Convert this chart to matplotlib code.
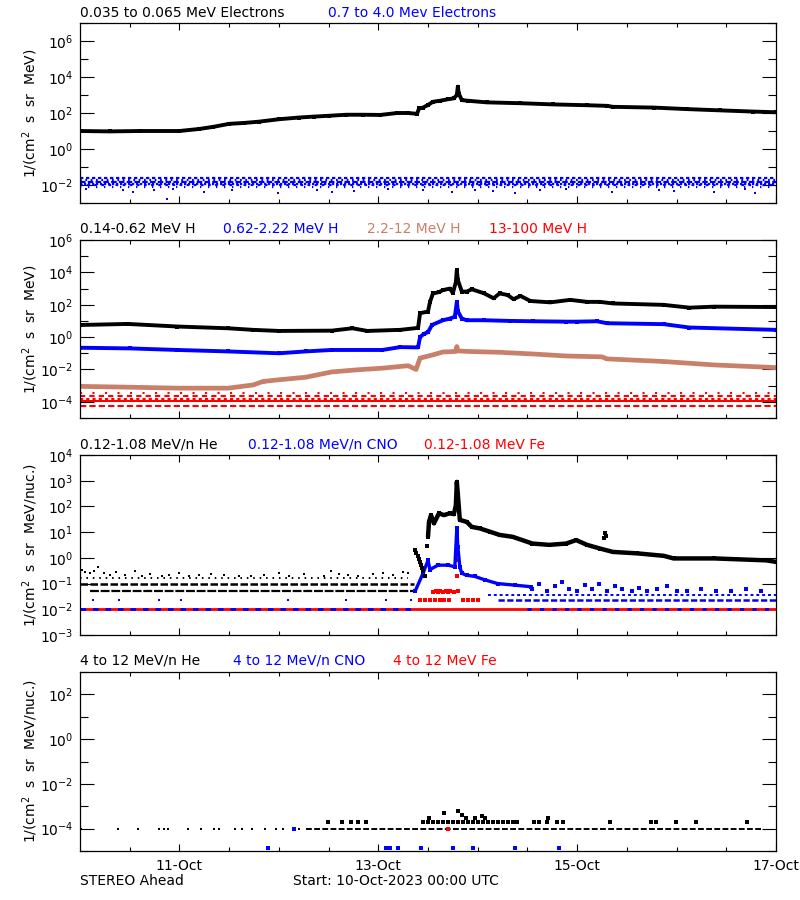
import numpy as np
import matplotlib
matplotlib.use("Agg")
import matplotlib.pyplot as plt
from matplotlib.ticker import FixedLocator, FuncFormatter, NullFormatter

plt.rcParams['font.family'] = ['DejaVu Sans']

BLUE = '#0000FF'
RED = '#FF0000'
BROWN = '#C8806A'

# ---------------- x axis (days since 10-Oct-2023 00:00 UTC) ----------------
day_ticks = [1, 3, 5, 7]
day_labels = ["11-Oct", "13-Oct", "15-Oct", "17-Oct"]

# ---------------- Panel 1: electrons ----------------
e_lo_days = [0.0, 0.3, 0.6, 1.0, 1.2, 1.34, 1.5, 1.65, 1.8, 2.0, 2.2, 2.35, 2.5, 2.68, 2.85,
             3.02, 3.19, 3.3, 3.39, 3.41, 3.45, 3.5, 3.55, 3.62, 3.7, 3.76, 3.79, 3.80, 3.81,
             3.84, 3.9, 4.09, 4.43, 4.76, 5.1, 5.3, 5.36, 5.77, 6.1, 6.44, 6.77, 7.0]
e_lo_flux = [10, 9.5, 10, 10, 13, 17, 25, 28, 33, 45, 56, 63, 70, 80, 80,
             78, 100, 100, 90, 180, 200, 280, 420, 480, 580, 650, 1000, 2900, 1200,
             520, 480, 390, 350, 300, 270, 250, 220, 200, 165, 140, 120, 110]
e_hi_levels = [0.024, 0.019, 0.015, 0.012, 0.0095, 0.0078]
e_hi_out_days = [0.06, 0.43, 0.53, 0.74, 0.88, 0.94, 1.25, 1.53, 1.99, 2.38, 2.53, 2.76, 3.10,
                 3.45, 3.74, 3.97, 4.15, 4.38, 4.63, 4.89, 5.35, 5.82, 5.97, 6.38, 6.69, 6.79]
e_hi_out_flux = [0.006, 0.005, 0.004, 0.005, 0.0016, 0.006, 0.004, 0.005, 0.0035, 0.005, 0.004,
                 0.0045, 0.006, 0.005, 0.004, 0.005, 0.0045, 0.0035, 0.005, 0.006, 0.004,
                 0.005, 0.0045, 0.004, 0.006, 0.0035]

# ---------------- Panel 2: protons ----------------
h1_days = [0.0, 0.48, 0.98, 1.49, 1.74, 2.0, 2.53, 2.74, 2.89, 3.22, 3.40, 3.42, 3.5, 3.52,
           3.55, 3.61, 3.65, 3.72, 3.75, 3.78, 3.79, 3.80, 3.84, 3.89, 3.94, 4.06, 4.16, 4.22,
           4.3, 4.36, 4.43, 4.53, 4.73, 4.93, 5.1, 5.23, 5.36, 5.87, 6.13, 6.38, 7.0]
h1_flux = [5.6, 6.5, 4.5, 3.5, 2.8, 2.4, 2.5, 3.5, 2.4, 2.8, 3.7, 30, 38, 150,
           500, 600, 800, 1000, 520, 2500, 14000, 3400, 650, 650, 900, 520, 250, 500,
           400, 220, 350, 170, 140, 200, 150, 150, 120, 98, 66, 76, 72]
h2_days = [0.0, 0.5, 0.98, 1.49, 2.0, 2.27, 2.53, 3.04, 3.22, 3.40, 3.42, 3.46, 3.5, 3.54,
           3.65, 3.72, 3.77, 3.79, 3.80, 3.84, 3.89, 4.06, 4.32, 4.56, 4.89, 5.0, 5.2,
           5.3, 5.87, 6.13, 7.0]
h2_flux = [0.22, 0.2, 0.16, 0.13, 0.10, 0.13, 0.16, 0.16, 0.24, 0.23, 1.0, 1.6, 2.0, 5.6,
           11, 14, 18, 150, 40, 14, 11, 11, 10, 9.5, 9, 9, 9.5, 7.2, 6.3, 3.9, 2.8]
h3_days = [0.0, 0.5, 0.98, 1.49, 1.74, 1.84, 2.0, 2.27, 2.53, 2.79, 3.04, 3.3, 3.38, 3.42,
           3.55, 3.65, 3.78, 3.79, 3.80, 3.89, 4.22, 4.56, 4.89, 5.25, 5.3, 5.87, 6.38, 7.0]
h3_flux = [9e-4, 8e-4, 7e-4, 7e-4, 1.1e-3, 1.8e-3, 2.3e-3, 3.3e-3, 7.0e-3, 9.5e-3, 1.2e-2,
           1.7e-2, 1.0e-2, 5e-2, 8e-2, 0.12, 0.13, 0.26, 0.14, 0.13, 0.115, 0.09, 0.068,
           0.06, 0.045, 0.031, 0.019, 0.013]
h4_levels = [3.4e-4, 2.3e-4, 1.6e-4, 1.15e-4, 5.5e-5]

# ---------------- Panel 3: 0.12-1.08 MeV/n ions ----------------
he_lo_levels = [0.16, 0.10, 0.051]
he_lo_quiet_days = [0.02, 0.05, 0.1, 0.14, 0.18, 0.24, 0.3, 0.36, 0.45, 0.55, 0.62, 0.7, 0.82,
                    0.9, 1.0, 1.1, 1.2, 1.32, 1.45, 1.6, 1.72, 1.85, 2.0, 2.1, 2.25, 2.45,
                    2.52, 2.6, 2.7, 2.8, 2.95, 3.05, 3.15, 3.25, 3.3]
he_lo_quiet_flux = [0.35, 0.28, 0.25, 0.3, 0.45, 0.25, 0.22, 0.28, 0.22, 0.3, 0.2, 0.24, 0.2,
                    0.22, 0.26, 0.2, 0.21, 0.24, 0.22, 0.19, 0.2, 0.22, 0.25, 0.2, 0.23, 0.2,
                    0.3, 0.24, 0.21, 0.2, 0.23, 0.25, 0.22, 0.28, 0.25]
he_lo_onset_days = [3.37, 3.38, 3.40, 3.41, 3.42, 3.43, 3.44, 3.45, 3.47, 3.49]
he_lo_onset_flux = [2.0, 1.5, 1.2, 0.9, 0.7, 0.55, 0.4, 0.3, 0.2, 3.0]
he_lo_days = [3.5, 3.51, 3.53, 3.56, 3.61, 3.66, 3.72, 3.76, 3.78, 3.79, 3.80, 3.82, 3.89,
              3.94, 4.02, 4.12, 4.22, 4.35, 4.55, 4.72, 4.89, 4.99, 5.1, 5.23, 5.36, 5.6,
              5.87, 5.97, 6.38, 6.9, 7.0]
he_lo_flux = [6.6, 25, 46, 22, 54, 46, 54, 50, 110, 900, 300, 30, 25,
              16, 14, 10.5, 7.8, 6.6, 3.6, 3.2, 3.6, 4.9, 3.2, 2.3, 1.7, 1.5,
              1.2, 0.95, 0.95, 0.8, 0.7]
he_lo_spike_days = [5.27, 5.28, 5.29]
he_lo_spike_flux = [6.0, 9.0, 7.0]
cno_lo_days = [3.37, 3.45, 3.5, 3.52, 3.6, 3.7, 3.77, 3.79, 3.80, 3.82, 3.84, 3.89, 3.97,
               4.07, 4.2, 4.37, 4.54]
cno_lo_flux = [0.05, 0.25, 0.8, 0.35, 0.52, 0.52, 0.45, 14, 2.7, 0.45, 0.25, 0.21, 0.19,
               0.14, 0.10, 0.087, 0.075]
cno_lo_quiet_days = [0.13, 0.39, 0.79, 1.02, 2.09, 2.68, 3.08, 3.33]
cno_lo_late_days = [4.55, 4.62, 4.7, 4.78, 4.85, 4.92, 5.0, 5.08, 5.15, 5.22, 5.3, 5.38, 5.45,
                    5.55, 5.62, 5.7, 5.8, 5.9, 6.0, 6.1, 6.25, 6.4, 6.55, 6.7, 6.85]
cno_lo_late_flux = [0.06, 0.1, 0.05, 0.08, 0.12, 0.06, 0.05, 0.09, 0.06, 0.1, 0.05, 0.08, 0.06,
                    0.05, 0.07, 0.05, 0.06, 0.08, 0.05, 0.05, 0.06, 0.05, 0.05, 0.06, 0.05]
cno_lo_levels = [0.035, 0.023]
fe_lo_days = [3.55, 3.58, 3.6, 3.62, 3.65, 3.68, 3.7, 3.72, 3.76, 3.79, 3.79, 3.8,
              3.42, 3.47, 3.52, 3.57, 3.62, 3.66, 3.71, 3.85, 3.9, 3.95, 4.0]
fe_lo_flux = [0.045, 0.05, 0.045, 0.05, 0.045, 0.05, 0.045, 0.05, 0.045, 0.8, 0.19, 0.05,
              0.023, 0.023, 0.023, 0.023, 0.023, 0.023, 0.023, 0.023, 0.023, 0.023, 0.023]
ion_floor = 0.0105

# ---------------- Panel 4: 4-12 MeV/n ions ----------------
he_hi_floor = 1.0e-4
he_hi_sparse_days = [0.01, 0.38, 0.58, 0.79, 0.84, 0.89, 1.09, 1.22, 1.35, 1.40, 1.56, 1.63,
                     1.73, 1.86, 1.97, 2.04, 2.15, 2.2]
he_hi_mid_days = [2.49, 2.64, 2.73, 2.80, 2.88, 3.45, 3.5, 3.55, 3.6, 3.65, 3.7, 3.75, 3.8,
                  3.85, 3.9, 3.95, 4.0, 4.05, 4.1, 4.15, 4.2, 4.25, 4.3, 4.35, 4.4, 4.57,
                  4.62, 4.70, 4.80, 4.86, 5.33, 5.74, 5.79, 5.99, 6.20, 6.71]
he_hi_up_days = [3.51, 3.66, 3.80, 3.84, 3.88, 3.97, 4.04, 4.07, 4.71]
he_hi_up_flux = [3.1e-4, 4.9e-4, 6.0e-4, 4.0e-4, 3.1e-4, 3.1e-4, 3.8e-4, 3.1e-4, 3.1e-4]
cno_hi_days = [1.89, 3.08, 3.12, 3.20, 3.43, 3.75, 3.95, 4.38, 4.82]
cno_hi_flux = [1.3e-5] * 9
fe_hi_days = [3.70]
fe_hi_flux = [1.0e-4]

# ---------------- figure ----------------
fig = plt.figure(figsize=(8, 9), dpi=100)
L, R = 80, 776
boxes = [(23, 203), (240, 418), (455, 635), (672, 851)]
axs = []
for top, bot in boxes:
    axs.append(fig.add_axes([L / 800, 1 - bot / 900, (R - L) / 800, (bot - top) / 900]))

fmt = FuncFormatter(lambda v, _: r'$10^{%d}$' % int(round(np.log10(v))))


def setup(ax, lo, hi, step, ylabel, show_x):
    ax.set_yscale('log')
    ax.set_xlim(0, 7)
    ax.set_ylim(10.0 ** lo, 10.0 ** hi)
    majors = [10.0 ** k for k in range(lo, hi + 1) if k % step == 0]
    minors = [10.0 ** k for k in range(lo, hi + 1) if k % step != 0]
    ax.yaxis.set_major_locator(FixedLocator(majors))
    ax.yaxis.set_minor_locator(FixedLocator(minors))
    ax.yaxis.set_major_formatter(fmt)
    ax.yaxis.set_minor_formatter(NullFormatter())
    ax.xaxis.set_major_locator(FixedLocator(day_ticks))
    ax.xaxis.set_minor_locator(FixedLocator(list(np.arange(0.5, 7.0, 0.5))))
    ax.tick_params(axis='y', which='major', direction='in', length=10, width=0.8,
                   left=True, right=True, labelsize=10, pad=5)
    ax.tick_params(axis='y', which='minor', direction='in', length=5.5, width=0.8,
                   left=True, right=True)
    ax.tick_params(axis='x', which='major', direction='in', length=5, width=0.8,
                   top=True, bottom=True, labelsize=10, pad=6)
    ax.tick_params(axis='x', which='minor', direction='in', length=3, width=0.8,
                   top=True, bottom=True)
    if show_x:
        ax.set_xticklabels(day_labels)
    else:
        ax.set_xticklabels([])
    for s in ax.spines.values():
        s.set_linewidth(0.9)
    ax.set_ylabel(ylabel, fontsize=10)
    ax.yaxis.set_label_coords(-0.058, 0.5)


def band(ax, d, f, c, lw=2.6):
    ax.plot(d, f, color=c, lw=lw, solid_joinstyle='round', solid_capstyle='butt')
    ax.plot(d, f, 's', color=c, ms=2.2, mew=0)


def dots(ax, d, f, c, ms=2.4):
    ax.plot(d, f, 's', color=c, ms=ms, mew=0, ls='none')


def level(ax, y, x0, x1, c, dashes=None, lw=1.5):
    if dashes is None:
        ax.plot([x0, x1], [y, y], color=c, lw=lw, solid_capstyle='butt')
    else:
        ax.plot([x0, x1], [y, y], color=c, lw=lw, dashes=dashes, dash_capstyle='butt')


yl1 = '1/(cm$^2$  s  sr  MeV)'
yl3 = '1/(cm$^2$  s  sr  MeV/nuc.)'

# Panel 1
ax = axs[0]
setup(ax, -3, 7, 2, yl1, False)
hi_dash = [(1.5, 1.2), (0.8, 1.6), (2.5, 1.0), (1.0, 0.8), (1.2, 2.0), (0.6, 3.0)]
for lv, ds in zip(e_hi_levels, hi_dash):
    level(ax, lv, 0, 7, BLUE, dashes=ds, lw=1.6)
dots(ax, e_hi_out_days, e_hi_out_flux, BLUE, ms=2.0)
band(ax, e_lo_days, e_lo_flux, 'black', lw=2.8)

# Panel 2
ax = axs[1]
setup(ax, -5, 6, 2, yl1, False)
red_dash = [(1.0, 5.0), (2.5, 2.0), (1.5, 1.5), None, (3.0, 1.5)]
for lv, ds in zip(h4_levels, red_dash):
    level(ax, lv, 0, 7, RED, dashes=ds, lw=1.5)
band(ax, h3_days, h3_flux, BROWN, lw=3.4)
band(ax, h2_days, h2_flux, BLUE, lw=2.8)
band(ax, h1_days, h1_flux, 'black', lw=2.8)

# Panel 3
ax = axs[2]
setup(ax, -3, 4, 1, yl3, False)
level(ax, ion_floor, 0, 7, RED, lw=2.0)
level(ax, ion_floor, 0, 3.38, BLUE, dashes=(2.0, 2.5), lw=2.0)
level(ax, ion_floor, 4.5, 7, BLUE, dashes=(1.5, 3.0), lw=2.0)
level(ax, cno_lo_levels[0], 4.1, 7, BLUE, dashes=(1.5, 1.5), lw=1.4)
level(ax, cno_lo_levels[1], 4.2, 7, BLUE, dashes=(2.5, 1.0), lw=1.8)
level(ax, he_lo_levels[0], 0, 3.3, 'black', dashes=(0.8, 2.5), lw=1.4)
level(ax, he_lo_levels[1], 0, 3.36, 'black', dashes=(3.0, 1.0), lw=1.8)
level(ax, he_lo_levels[2], 0.1, 3.38, 'black', dashes=(4.0, 0.8), lw=1.6)
dots(ax, he_lo_quiet_days, he_lo_quiet_flux, 'black', ms=2.0)
dots(ax, cno_lo_quiet_days, [0.024] * len(cno_lo_quiet_days), BLUE, ms=2.0)
dots(ax, cno_lo_late_days, cno_lo_late_flux, BLUE)
dots(ax, fe_lo_days, fe_lo_flux, RED, ms=3)
band(ax, cno_lo_days, cno_lo_flux, BLUE, lw=2.4)
dots(ax, he_lo_onset_days, he_lo_onset_flux, 'black', ms=2.6)
dots(ax, he_lo_spike_days, he_lo_spike_flux, 'black', ms=2.6)
band(ax, he_lo_days, he_lo_flux, 'black', lw=3.2)

# Panel 4
ax = axs[3]
setup(ax, -5, 3, 2, yl3, True)
level(ax, he_hi_floor, 2.27, 6.85, 'black', dashes=(3.0, 1.2), lw=1.4)
dots(ax, he_hi_sparse_days, [he_hi_floor] * len(he_hi_sparse_days), 'black', ms=1.8)
dots(ax, he_hi_mid_days, [1.9e-4] * len(he_hi_mid_days), 'black', ms=2.2)
dots(ax, he_hi_up_days, he_hi_up_flux, 'black', ms=2.4)
dots(ax, cno_hi_days, cno_hi_flux, BLUE, ms=2.4)
dots(ax, [2.15], [1.0e-4], BLUE, ms=2.2)
dots(ax, fe_hi_days, fe_hi_flux, RED, ms=2.2)


# ---------------- titles ----------------
def ftext(x, y, s, c='black', size=10):
    fig.text(x / 800, 1 - y / 900, s, color=c, fontsize=size, ha='left', va='center')


ftext(80, 13, "0.035 to 0.065 MeV Electrons")
ftext(328, 13, "0.7 to 4.0 Mev Electrons", BLUE)
ftext(80, 229, "0.14-0.62 MeV H")
ftext(223, 229, "0.62-2.22 MeV H", BLUE)
ftext(367, 229, "2.2-12 MeV H", BROWN)
ftext(489, 229, "13-100 MeV H", RED)
ftext(80, 445, "0.12-1.08 MeV/n He")
ftext(248, 445, "0.12-1.08 MeV/n CNO", BLUE)
ftext(424, 445, "0.12-1.08 MeV Fe", RED)
ftext(80, 661, "4 to 12 MeV/n He")
ftext(233, 661, "4 to 12 MeV/n CNO", BLUE)
ftext(393, 661, "4 to 12 MeV Fe", RED)
ftext(80, 881, "STEREO Ahead")
ftext(293, 881, "Start: 10-Oct-2023 00:00 UTC")

fig.savefig("out.png", dpi=100)
